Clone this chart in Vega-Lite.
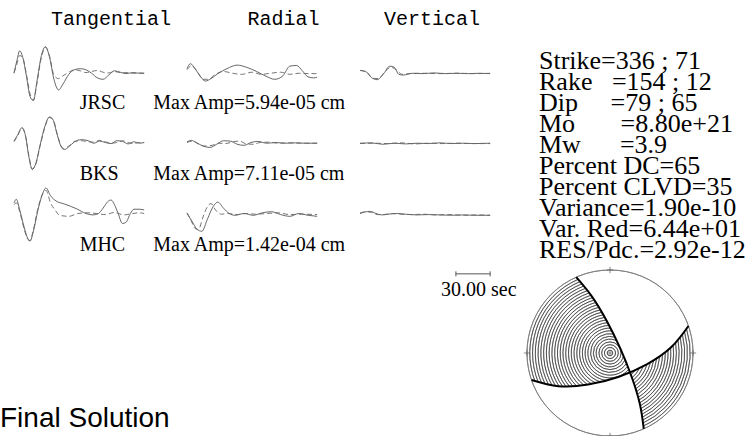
{
  "$schema": "https://vega.github.io/schema/vega-lite/v6.json",
  "padding": {"top": 8, "left": 0, "right": 0, "bottom": 0},
  "background": "white",
  "spacing": 5,
  "config": {"view": {"stroke": null}, "font": "Liberation Serif"},
  "hconcat": [
    {
      "data": {"values": [
        {"station":"JRSC","comp":"Tangential","kind":"obs","t":0,"amp":-0.05},{"station":"JRSC","comp":"Tangential","kind":"obs","t":2.5,"amp":0.3},{"station":"JRSC","comp":"Tangential","kind":"obs","t":5,"amp":0.58},{"station":"JRSC","comp":"Tangential","kind":"obs","t":7.5,"amp":0.42},{"station":"JRSC","comp":"Tangential","kind":"obs","t":11,"amp":-0.15},{"station":"JRSC","comp":"Tangential","kind":"obs","t":14,"amp":-0.7},{"station":"JRSC","comp":"Tangential","kind":"obs","t":17,"amp":-0.82},{"station":"JRSC","comp":"Tangential","kind":"obs","t":20,"amp":-0.3},{"station":"JRSC","comp":"Tangential","kind":"obs","t":24,"amp":0.45},{"station":"JRSC","comp":"Tangential","kind":"obs","t":27.5,"amp":0.7},{"station":"JRSC","comp":"Tangential","kind":"obs","t":31,"amp":0.42},{"station":"JRSC","comp":"Tangential","kind":"obs","t":35,"amp":-0.22},{"station":"JRSC","comp":"Tangential","kind":"obs","t":39,"amp":-0.52},{"station":"JRSC","comp":"Tangential","kind":"obs","t":43,"amp":-0.35},{"station":"JRSC","comp":"Tangential","kind":"obs","t":48,"amp":-0.08},{"station":"JRSC","comp":"Tangential","kind":"obs","t":53,"amp":0.05},{"station":"JRSC","comp":"Tangential","kind":"obs","t":58,"amp":0.08},{"station":"JRSC","comp":"Tangential","kind":"obs","t":63,"amp":0.05},{"station":"JRSC","comp":"Tangential","kind":"obs","t":68,"amp":-0.05},{"station":"JRSC","comp":"Tangential","kind":"obs","t":73,"amp":-0.18},{"station":"JRSC","comp":"Tangential","kind":"obs","t":78,"amp":-0.22},{"station":"JRSC","comp":"Tangential","kind":"obs","t":83,"amp":-0.1},{"station":"JRSC","comp":"Tangential","kind":"obs","t":88,"amp":0.02},{"station":"JRSC","comp":"Tangential","kind":"obs","t":93,"amp":-0.02},{"station":"JRSC","comp":"Tangential","kind":"obs","t":98,"amp":-0.06},{"station":"JRSC","comp":"Tangential","kind":"obs","t":104,"amp":-0.03},{"station":"JRSC","comp":"Tangential","kind":"obs","t":110,"amp":-0.05},{"station":"JRSC","comp":"Tangential","kind":"obs","t":114,"amp":-0.05},
        {"station":"JRSC","comp":"Tangential","kind":"syn","t":0,"amp":-0.03},{"station":"JRSC","comp":"Tangential","kind":"syn","t":2.5,"amp":0.2},{"station":"JRSC","comp":"Tangential","kind":"syn","t":5,"amp":0.45},{"station":"JRSC","comp":"Tangential","kind":"syn","t":7.5,"amp":0.4},{"station":"JRSC","comp":"Tangential","kind":"syn","t":11,"amp":-0.1},{"station":"JRSC","comp":"Tangential","kind":"syn","t":14,"amp":-0.62},{"station":"JRSC","comp":"Tangential","kind":"syn","t":17,"amp":-0.8},{"station":"JRSC","comp":"Tangential","kind":"syn","t":20,"amp":-0.35},{"station":"JRSC","comp":"Tangential","kind":"syn","t":24,"amp":0.4},{"station":"JRSC","comp":"Tangential","kind":"syn","t":27.5,"amp":0.68},{"station":"JRSC","comp":"Tangential","kind":"syn","t":31,"amp":0.45},{"station":"JRSC","comp":"Tangential","kind":"syn","t":35,"amp":-0.1},{"station":"JRSC","comp":"Tangential","kind":"syn","t":39,"amp":-0.2},{"station":"JRSC","comp":"Tangential","kind":"syn","t":43,"amp":-0.12},{"station":"JRSC","comp":"Tangential","kind":"syn","t":48,"amp":-0.02},{"station":"JRSC","comp":"Tangential","kind":"syn","t":53,"amp":0.05},{"station":"JRSC","comp":"Tangential","kind":"syn","t":58,"amp":0.02},{"station":"JRSC","comp":"Tangential","kind":"syn","t":63,"amp":-0.03},{"station":"JRSC","comp":"Tangential","kind":"syn","t":68,"amp":0},{"station":"JRSC","comp":"Tangential","kind":"syn","t":73,"amp":0.03},{"station":"JRSC","comp":"Tangential","kind":"syn","t":78,"amp":-0.02},{"station":"JRSC","comp":"Tangential","kind":"syn","t":83,"amp":-0.04},{"station":"JRSC","comp":"Tangential","kind":"syn","t":88,"amp":0},{"station":"JRSC","comp":"Tangential","kind":"syn","t":93,"amp":-0.03},{"station":"JRSC","comp":"Tangential","kind":"syn","t":98,"amp":-0.03},{"station":"JRSC","comp":"Tangential","kind":"syn","t":104,"amp":-0.05},{"station":"JRSC","comp":"Tangential","kind":"syn","t":110,"amp":-0.04},{"station":"JRSC","comp":"Tangential","kind":"syn","t":114,"amp":-0.05},
        {"station":"JRSC","comp":"Radial","kind":"obs","t":0,"amp":0.08},{"station":"JRSC","comp":"Radial","kind":"obs","t":3,"amp":0.22},{"station":"JRSC","comp":"Radial","kind":"obs","t":7,"amp":0.08},{"station":"JRSC","comp":"Radial","kind":"obs","t":12,"amp":-0.15},{"station":"JRSC","comp":"Radial","kind":"obs","t":16,"amp":-0.27},{"station":"JRSC","comp":"Radial","kind":"obs","t":21,"amp":-0.2},{"station":"JRSC","comp":"Radial","kind":"obs","t":27,"amp":-0.06},{"station":"JRSC","comp":"Radial","kind":"obs","t":35,"amp":0.08},{"station":"JRSC","comp":"Radial","kind":"obs","t":44,"amp":0.18},{"station":"JRSC","comp":"Radial","kind":"obs","t":52,"amp":0.12},{"station":"JRSC","comp":"Radial","kind":"obs","t":61,"amp":0},{"station":"JRSC","comp":"Radial","kind":"obs","t":69,"amp":-0.13},{"station":"JRSC","comp":"Radial","kind":"obs","t":77,"amp":-0.22},{"station":"JRSC","comp":"Radial","kind":"obs","t":84,"amp":-0.12},{"station":"JRSC","comp":"Radial","kind":"obs","t":90,"amp":0.15},{"station":"JRSC","comp":"Radial","kind":"obs","t":96,"amp":0.17},{"station":"JRSC","comp":"Radial","kind":"obs","t":101,"amp":0.02},{"station":"JRSC","comp":"Radial","kind":"obs","t":106,"amp":-0.15},{"station":"JRSC","comp":"Radial","kind":"obs","t":111,"amp":-0.18},{"station":"JRSC","comp":"Radial","kind":"obs","t":114,"amp":-0.16},
        {"station":"JRSC","comp":"Radial","kind":"syn","t":0,"amp":0.05},{"station":"JRSC","comp":"Radial","kind":"syn","t":4,"amp":0.16},{"station":"JRSC","comp":"Radial","kind":"syn","t":9,"amp":0},{"station":"JRSC","comp":"Radial","kind":"syn","t":14,"amp":-0.22},{"station":"JRSC","comp":"Radial","kind":"syn","t":19,"amp":-0.22},{"station":"JRSC","comp":"Radial","kind":"syn","t":24,"amp":-0.1},{"station":"JRSC","comp":"Radial","kind":"syn","t":32,"amp":0},{"station":"JRSC","comp":"Radial","kind":"syn","t":40,"amp":-0.05},{"station":"JRSC","comp":"Radial","kind":"syn","t":48,"amp":-0.08},{"station":"JRSC","comp":"Radial","kind":"syn","t":57,"amp":-0.02},{"station":"JRSC","comp":"Radial","kind":"syn","t":65,"amp":-0.08},{"station":"JRSC","comp":"Radial","kind":"syn","t":73,"amp":-0.05},{"station":"JRSC","comp":"Radial","kind":"syn","t":82,"amp":-0.02},{"station":"JRSC","comp":"Radial","kind":"syn","t":90,"amp":-0.08},{"station":"JRSC","comp":"Radial","kind":"syn","t":98,"amp":-0.05},{"station":"JRSC","comp":"Radial","kind":"syn","t":107,"amp":-0.06},{"station":"JRSC","comp":"Radial","kind":"syn","t":114,"amp":-0.06},
        {"station":"JRSC","comp":"Vertical","kind":"obs","t":0,"amp":0.03},{"station":"JRSC","comp":"Vertical","kind":"obs","t":5,"amp":0},{"station":"JRSC","comp":"Vertical","kind":"obs","t":10,"amp":-0.17},{"station":"JRSC","comp":"Vertical","kind":"obs","t":15,"amp":-0.23},{"station":"JRSC","comp":"Vertical","kind":"obs","t":21,"amp":-0.05},{"station":"JRSC","comp":"Vertical","kind":"obs","t":26,"amp":0.15},{"station":"JRSC","comp":"Vertical","kind":"obs","t":30,"amp":0.12},{"station":"JRSC","comp":"Vertical","kind":"obs","t":34,"amp":-0.08},{"station":"JRSC","comp":"Vertical","kind":"obs","t":38,"amp":-0.1},{"station":"JRSC","comp":"Vertical","kind":"obs","t":46,"amp":-0.05},{"station":"JRSC","comp":"Vertical","kind":"obs","t":55,"amp":-0.06},{"station":"JRSC","comp":"Vertical","kind":"obs","t":65,"amp":-0.04},{"station":"JRSC","comp":"Vertical","kind":"obs","t":75,"amp":-0.06},{"station":"JRSC","comp":"Vertical","kind":"obs","t":85,"amp":-0.05},{"station":"JRSC","comp":"Vertical","kind":"obs","t":95,"amp":-0.06},{"station":"JRSC","comp":"Vertical","kind":"obs","t":105,"amp":-0.05},{"station":"JRSC","comp":"Vertical","kind":"obs","t":114,"amp":-0.06},
        {"station":"JRSC","comp":"Vertical","kind":"syn","t":0,"amp":0.03},{"station":"JRSC","comp":"Vertical","kind":"syn","t":6,"amp":-0.02},{"station":"JRSC","comp":"Vertical","kind":"syn","t":11,"amp":-0.19},{"station":"JRSC","comp":"Vertical","kind":"syn","t":16,"amp":-0.2},{"station":"JRSC","comp":"Vertical","kind":"syn","t":22,"amp":0},{"station":"JRSC","comp":"Vertical","kind":"syn","t":27,"amp":0.12},{"station":"JRSC","comp":"Vertical","kind":"syn","t":32,"amp":0.04},{"station":"JRSC","comp":"Vertical","kind":"syn","t":37,"amp":-0.08},{"station":"JRSC","comp":"Vertical","kind":"syn","t":43,"amp":-0.06},{"station":"JRSC","comp":"Vertical","kind":"syn","t":55,"amp":-0.05},{"station":"JRSC","comp":"Vertical","kind":"syn","t":70,"amp":-0.06},{"station":"JRSC","comp":"Vertical","kind":"syn","t":85,"amp":-0.05},{"station":"JRSC","comp":"Vertical","kind":"syn","t":100,"amp":-0.06},{"station":"JRSC","comp":"Vertical","kind":"syn","t":114,"amp":-0.05},
        {"station":"BKS","comp":"Tangential","kind":"obs","t":0,"amp":0.04},{"station":"BKS","comp":"Tangential","kind":"obs","t":3,"amp":0.2},{"station":"BKS","comp":"Tangential","kind":"obs","t":7,"amp":0.42},{"station":"BKS","comp":"Tangential","kind":"obs","t":10,"amp":0.2},{"station":"BKS","comp":"Tangential","kind":"obs","t":13,"amp":-0.4},{"station":"BKS","comp":"Tangential","kind":"obs","t":16,"amp":-0.76},{"station":"BKS","comp":"Tangential","kind":"obs","t":19,"amp":-0.6},{"station":"BKS","comp":"Tangential","kind":"obs","t":23,"amp":-0.05},{"station":"BKS","comp":"Tangential","kind":"obs","t":27,"amp":0.45},{"station":"BKS","comp":"Tangential","kind":"obs","t":31,"amp":0.72},{"station":"BKS","comp":"Tangential","kind":"obs","t":34,"amp":0.65},{"station":"BKS","comp":"Tangential","kind":"obs","t":38,"amp":0.2},{"station":"BKS","comp":"Tangential","kind":"obs","t":41,"amp":-0.1},{"station":"BKS","comp":"Tangential","kind":"obs","t":44,"amp":-0.2},{"station":"BKS","comp":"Tangential","kind":"obs","t":48,"amp":-0.12},{"station":"BKS","comp":"Tangential","kind":"obs","t":53,"amp":0.02},{"station":"BKS","comp":"Tangential","kind":"obs","t":59,"amp":0.08},{"station":"BKS","comp":"Tangential","kind":"obs","t":65,"amp":0.05},{"station":"BKS","comp":"Tangential","kind":"obs","t":70,"amp":-0.02},{"station":"BKS","comp":"Tangential","kind":"obs","t":75,"amp":0.04},{"station":"BKS","comp":"Tangential","kind":"obs","t":80,"amp":0},{"station":"BKS","comp":"Tangential","kind":"obs","t":85,"amp":-0.03},{"station":"BKS","comp":"Tangential","kind":"obs","t":90,"amp":0.05},{"station":"BKS","comp":"Tangential","kind":"obs","t":95,"amp":0.03},{"station":"BKS","comp":"Tangential","kind":"obs","t":100,"amp":-0.04},{"station":"BKS","comp":"Tangential","kind":"obs","t":105,"amp":0.02},{"station":"BKS","comp":"Tangential","kind":"obs","t":110,"amp":-0.02},{"station":"BKS","comp":"Tangential","kind":"obs","t":114,"amp":0},
        {"station":"BKS","comp":"Tangential","kind":"syn","t":0,"amp":0.02},{"station":"BKS","comp":"Tangential","kind":"syn","t":3,"amp":0.18},{"station":"BKS","comp":"Tangential","kind":"syn","t":7,"amp":0.4},{"station":"BKS","comp":"Tangential","kind":"syn","t":10,"amp":0.2},{"station":"BKS","comp":"Tangential","kind":"syn","t":13,"amp":-0.36},{"station":"BKS","comp":"Tangential","kind":"syn","t":16,"amp":-0.74},{"station":"BKS","comp":"Tangential","kind":"syn","t":19,"amp":-0.62},{"station":"BKS","comp":"Tangential","kind":"syn","t":23,"amp":-0.08},{"station":"BKS","comp":"Tangential","kind":"syn","t":27,"amp":0.42},{"station":"BKS","comp":"Tangential","kind":"syn","t":31,"amp":0.7},{"station":"BKS","comp":"Tangential","kind":"syn","t":34,"amp":0.66},{"station":"BKS","comp":"Tangential","kind":"syn","t":38,"amp":0.22},{"station":"BKS","comp":"Tangential","kind":"syn","t":41,"amp":-0.08},{"station":"BKS","comp":"Tangential","kind":"syn","t":44,"amp":-0.17},{"station":"BKS","comp":"Tangential","kind":"syn","t":48,"amp":-0.1},{"station":"BKS","comp":"Tangential","kind":"syn","t":53,"amp":0.03},{"station":"BKS","comp":"Tangential","kind":"syn","t":59,"amp":0.05},{"station":"BKS","comp":"Tangential","kind":"syn","t":65,"amp":0.02},{"station":"BKS","comp":"Tangential","kind":"syn","t":70,"amp":0.01},{"station":"BKS","comp":"Tangential","kind":"syn","t":75,"amp":0.06},{"station":"BKS","comp":"Tangential","kind":"syn","t":80,"amp":0.02},{"station":"BKS","comp":"Tangential","kind":"syn","t":85,"amp":-0.02},{"station":"BKS","comp":"Tangential","kind":"syn","t":90,"amp":0},{"station":"BKS","comp":"Tangential","kind":"syn","t":95,"amp":0.05},{"station":"BKS","comp":"Tangential","kind":"syn","t":100,"amp":0},{"station":"BKS","comp":"Tangential","kind":"syn","t":105,"amp":-0.03},{"station":"BKS","comp":"Tangential","kind":"syn","t":110,"amp":0},{"station":"BKS","comp":"Tangential","kind":"syn","t":114,"amp":0},
        {"station":"BKS","comp":"Radial","kind":"obs","t":0,"amp":0.02},{"station":"BKS","comp":"Radial","kind":"obs","t":4,"amp":0.06},{"station":"BKS","comp":"Radial","kind":"obs","t":8,"amp":0},{"station":"BKS","comp":"Radial","kind":"obs","t":14,"amp":-0.1},{"station":"BKS","comp":"Radial","kind":"obs","t":20,"amp":-0.14},{"station":"BKS","comp":"Radial","kind":"obs","t":26,"amp":-0.05},{"station":"BKS","comp":"Radial","kind":"obs","t":32,"amp":0.05},{"station":"BKS","comp":"Radial","kind":"obs","t":38,"amp":0.04},{"station":"BKS","comp":"Radial","kind":"obs","t":44,"amp":-0.05},{"station":"BKS","comp":"Radial","kind":"obs","t":50,"amp":-0.08},{"station":"BKS","comp":"Radial","kind":"obs","t":56,"amp":0},{"station":"BKS","comp":"Radial","kind":"obs","t":62,"amp":0.03},{"station":"BKS","comp":"Radial","kind":"obs","t":70,"amp":-0.02},{"station":"BKS","comp":"Radial","kind":"obs","t":78,"amp":0},{"station":"BKS","comp":"Radial","kind":"obs","t":86,"amp":-0.02},{"station":"BKS","comp":"Radial","kind":"obs","t":95,"amp":-0.01},{"station":"BKS","comp":"Radial","kind":"obs","t":104,"amp":-0.02},{"station":"BKS","comp":"Radial","kind":"obs","t":114,"amp":-0.02},
        {"station":"BKS","comp":"Radial","kind":"syn","t":0,"amp":0},{"station":"BKS","comp":"Radial","kind":"syn","t":5,"amp":0.04},{"station":"BKS","comp":"Radial","kind":"syn","t":10,"amp":-0.04},{"station":"BKS","comp":"Radial","kind":"syn","t":16,"amp":-0.1},{"station":"BKS","comp":"Radial","kind":"syn","t":22,"amp":-0.08},{"station":"BKS","comp":"Radial","kind":"syn","t":28,"amp":-0.02},{"station":"BKS","comp":"Radial","kind":"syn","t":34,"amp":-0.03},{"station":"BKS","comp":"Radial","kind":"syn","t":40,"amp":0.02},{"station":"BKS","comp":"Radial","kind":"syn","t":46,"amp":0.04},{"station":"BKS","comp":"Radial","kind":"syn","t":52,"amp":-0.04},{"station":"BKS","comp":"Radial","kind":"syn","t":58,"amp":-0.05},{"station":"BKS","comp":"Radial","kind":"syn","t":64,"amp":0},{"station":"BKS","comp":"Radial","kind":"syn","t":72,"amp":0.01},{"station":"BKS","comp":"Radial","kind":"syn","t":80,"amp":-0.02},{"station":"BKS","comp":"Radial","kind":"syn","t":90,"amp":-0.01},{"station":"BKS","comp":"Radial","kind":"syn","t":100,"amp":-0.02},{"station":"BKS","comp":"Radial","kind":"syn","t":114,"amp":-0.02},
        {"station":"BKS","comp":"Vertical","kind":"obs","t":0,"amp":-0.02},{"station":"BKS","comp":"Vertical","kind":"obs","t":10,"amp":-0.01},{"station":"BKS","comp":"Vertical","kind":"obs","t":20,"amp":-0.05},{"station":"BKS","comp":"Vertical","kind":"obs","t":30,"amp":-0.02},{"station":"BKS","comp":"Vertical","kind":"obs","t":40,"amp":-0.04},{"station":"BKS","comp":"Vertical","kind":"obs","t":50,"amp":-0.02},{"station":"BKS","comp":"Vertical","kind":"obs","t":60,"amp":-0.03},{"station":"BKS","comp":"Vertical","kind":"obs","t":70,"amp":-0.01},{"station":"BKS","comp":"Vertical","kind":"obs","t":80,"amp":-0.03},{"station":"BKS","comp":"Vertical","kind":"obs","t":90,"amp":-0.02},{"station":"BKS","comp":"Vertical","kind":"obs","t":100,"amp":-0.03},{"station":"BKS","comp":"Vertical","kind":"obs","t":114,"amp":-0.02},
        {"station":"BKS","comp":"Vertical","kind":"syn","t":0,"amp":-0.03},{"station":"BKS","comp":"Vertical","kind":"syn","t":12,"amp":-0.02},{"station":"BKS","comp":"Vertical","kind":"syn","t":24,"amp":-0.03},{"station":"BKS","comp":"Vertical","kind":"syn","t":36,"amp":-0.01},{"station":"BKS","comp":"Vertical","kind":"syn","t":48,"amp":-0.04},{"station":"BKS","comp":"Vertical","kind":"syn","t":60,"amp":-0.02},{"station":"BKS","comp":"Vertical","kind":"syn","t":72,"amp":-0.03},{"station":"BKS","comp":"Vertical","kind":"syn","t":84,"amp":-0.02},{"station":"BKS","comp":"Vertical","kind":"syn","t":96,"amp":-0.03},{"station":"BKS","comp":"Vertical","kind":"syn","t":114,"amp":-0.03},
        {"station":"MHC","comp":"Tangential","kind":"obs","t":0,"amp":0.3},{"station":"MHC","comp":"Tangential","kind":"obs","t":2,"amp":0.4},{"station":"MHC","comp":"Tangential","kind":"obs","t":5,"amp":0.1},{"station":"MHC","comp":"Tangential","kind":"obs","t":9,"amp":-0.4},{"station":"MHC","comp":"Tangential","kind":"obs","t":12,"amp":-0.7},{"station":"MHC","comp":"Tangential","kind":"obs","t":14,"amp":-0.78},{"station":"MHC","comp":"Tangential","kind":"obs","t":17,"amp":-0.5},{"station":"MHC","comp":"Tangential","kind":"obs","t":21,"amp":0.1},{"station":"MHC","comp":"Tangential","kind":"obs","t":25,"amp":0.55},{"station":"MHC","comp":"Tangential","kind":"obs","t":28,"amp":0.72},{"station":"MHC","comp":"Tangential","kind":"obs","t":32,"amp":0.5},{"station":"MHC","comp":"Tangential","kind":"obs","t":37,"amp":0.35},{"station":"MHC","comp":"Tangential","kind":"obs","t":44,"amp":0.27},{"station":"MHC","comp":"Tangential","kind":"obs","t":55,"amp":0.13},{"station":"MHC","comp":"Tangential","kind":"obs","t":63,"amp":0},{"station":"MHC","comp":"Tangential","kind":"obs","t":69,"amp":-0.04},{"station":"MHC","comp":"Tangential","kind":"obs","t":74,"amp":0},{"station":"MHC","comp":"Tangential","kind":"obs","t":78,"amp":0.15},{"station":"MHC","comp":"Tangential","kind":"obs","t":82,"amp":0.33},{"station":"MHC","comp":"Tangential","kind":"obs","t":85,"amp":0.38},{"station":"MHC","comp":"Tangential","kind":"obs","t":88,"amp":0.25},{"station":"MHC","comp":"Tangential","kind":"obs","t":91,"amp":0.02},{"station":"MHC","comp":"Tangential","kind":"obs","t":95,"amp":-0.28},{"station":"MHC","comp":"Tangential","kind":"obs","t":98,"amp":-0.25},{"station":"MHC","comp":"Tangential","kind":"obs","t":102,"amp":0},{"station":"MHC","comp":"Tangential","kind":"obs","t":105,"amp":0.12},{"station":"MHC","comp":"Tangential","kind":"obs","t":110,"amp":0.12},{"station":"MHC","comp":"Tangential","kind":"obs","t":114,"amp":0.1},
        {"station":"MHC","comp":"Tangential","kind":"syn","t":0,"amp":0.25},{"station":"MHC","comp":"Tangential","kind":"syn","t":2,"amp":0.3},{"station":"MHC","comp":"Tangential","kind":"syn","t":5,"amp":0.05},{"station":"MHC","comp":"Tangential","kind":"syn","t":9,"amp":-0.45},{"station":"MHC","comp":"Tangential","kind":"syn","t":12,"amp":-0.72},{"station":"MHC","comp":"Tangential","kind":"syn","t":14,"amp":-0.76},{"station":"MHC","comp":"Tangential","kind":"syn","t":17,"amp":-0.45},{"station":"MHC","comp":"Tangential","kind":"syn","t":21,"amp":0.15},{"station":"MHC","comp":"Tangential","kind":"syn","t":25,"amp":0.55},{"station":"MHC","comp":"Tangential","kind":"syn","t":28,"amp":0.65},{"station":"MHC","comp":"Tangential","kind":"syn","t":32,"amp":0.3},{"station":"MHC","comp":"Tangential","kind":"syn","t":36,"amp":0.1},{"station":"MHC","comp":"Tangential","kind":"syn","t":40,"amp":-0.05},{"station":"MHC","comp":"Tangential","kind":"syn","t":48,"amp":-0.08},{"station":"MHC","comp":"Tangential","kind":"syn","t":56,"amp":0},{"station":"MHC","comp":"Tangential","kind":"syn","t":64,"amp":0.02},{"station":"MHC","comp":"Tangential","kind":"syn","t":72,"amp":0},{"station":"MHC","comp":"Tangential","kind":"syn","t":80,"amp":-0.03},{"station":"MHC","comp":"Tangential","kind":"syn","t":88,"amp":0.03},{"station":"MHC","comp":"Tangential","kind":"syn","t":96,"amp":-0.04},{"station":"MHC","comp":"Tangential","kind":"syn","t":104,"amp":0},{"station":"MHC","comp":"Tangential","kind":"syn","t":110,"amp":0.02},{"station":"MHC","comp":"Tangential","kind":"syn","t":114,"amp":0},
        {"station":"MHC","comp":"Radial","kind":"obs","t":0,"amp":0},{"station":"MHC","comp":"Radial","kind":"obs","t":4,"amp":-0.2},{"station":"MHC","comp":"Radial","kind":"obs","t":9,"amp":-0.45},{"station":"MHC","comp":"Radial","kind":"obs","t":13,"amp":-0.5},{"station":"MHC","comp":"Radial","kind":"obs","t":18,"amp":-0.15},{"station":"MHC","comp":"Radial","kind":"obs","t":23,"amp":0.2},{"station":"MHC","comp":"Radial","kind":"obs","t":27,"amp":0.32},{"station":"MHC","comp":"Radial","kind":"obs","t":32,"amp":0.15},{"station":"MHC","comp":"Radial","kind":"obs","t":37,"amp":0},{"station":"MHC","comp":"Radial","kind":"obs","t":42,"amp":-0.05},{"station":"MHC","comp":"Radial","kind":"obs","t":50,"amp":0},{"station":"MHC","comp":"Radial","kind":"obs","t":58,"amp":-0.05},{"station":"MHC","comp":"Radial","kind":"obs","t":66,"amp":0.02},{"station":"MHC","comp":"Radial","kind":"obs","t":74,"amp":0.05},{"station":"MHC","comp":"Radial","kind":"obs","t":82,"amp":-0.03},{"station":"MHC","comp":"Radial","kind":"obs","t":90,"amp":-0.08},{"station":"MHC","comp":"Radial","kind":"obs","t":98,"amp":0},{"station":"MHC","comp":"Radial","kind":"obs","t":106,"amp":-0.05},{"station":"MHC","comp":"Radial","kind":"obs","t":114,"amp":-0.08},
        {"station":"MHC","comp":"Radial","kind":"syn","t":0,"amp":0.02},{"station":"MHC","comp":"Radial","kind":"syn","t":3,"amp":-0.15},{"station":"MHC","comp":"Radial","kind":"syn","t":7,"amp":-0.42},{"station":"MHC","comp":"Radial","kind":"syn","t":10,"amp":-0.45},{"station":"MHC","comp":"Radial","kind":"syn","t":14,"amp":-0.1},{"station":"MHC","comp":"Radial","kind":"syn","t":18,"amp":0.2},{"station":"MHC","comp":"Radial","kind":"syn","t":21,"amp":0.28},{"station":"MHC","comp":"Radial","kind":"syn","t":25,"amp":0.1},{"station":"MHC","comp":"Radial","kind":"syn","t":30,"amp":-0.02},{"station":"MHC","comp":"Radial","kind":"syn","t":36,"amp":0},{"station":"MHC","comp":"Radial","kind":"syn","t":44,"amp":-0.03},{"station":"MHC","comp":"Radial","kind":"syn","t":52,"amp":0},{"station":"MHC","comp":"Radial","kind":"syn","t":60,"amp":-0.02},{"station":"MHC","comp":"Radial","kind":"syn","t":70,"amp":0},{"station":"MHC","comp":"Radial","kind":"syn","t":80,"amp":0.02},{"station":"MHC","comp":"Radial","kind":"syn","t":90,"amp":-0.03},{"station":"MHC","comp":"Radial","kind":"syn","t":100,"amp":-0.02},{"station":"MHC","comp":"Radial","kind":"syn","t":114,"amp":-0.03},
        {"station":"MHC","comp":"Vertical","kind":"obs","t":0,"amp":0},{"station":"MHC","comp":"Vertical","kind":"obs","t":4,"amp":0.04},{"station":"MHC","comp":"Vertical","kind":"obs","t":9,"amp":0.06},{"station":"MHC","comp":"Vertical","kind":"obs","t":14,"amp":0},{"station":"MHC","comp":"Vertical","kind":"obs","t":19,"amp":-0.04},{"station":"MHC","comp":"Vertical","kind":"obs","t":25,"amp":-0.02},{"station":"MHC","comp":"Vertical","kind":"obs","t":32,"amp":0},{"station":"MHC","comp":"Vertical","kind":"obs","t":40,"amp":-0.02},{"station":"MHC","comp":"Vertical","kind":"obs","t":50,"amp":-0.04},{"station":"MHC","comp":"Vertical","kind":"obs","t":60,"amp":-0.03},{"station":"MHC","comp":"Vertical","kind":"obs","t":70,"amp":-0.04},{"station":"MHC","comp":"Vertical","kind":"obs","t":80,"amp":-0.05},{"station":"MHC","comp":"Vertical","kind":"obs","t":90,"amp":-0.04},{"station":"MHC","comp":"Vertical","kind":"obs","t":100,"amp":-0.05},{"station":"MHC","comp":"Vertical","kind":"obs","t":114,"amp":-0.05},
        {"station":"MHC","comp":"Vertical","kind":"syn","t":0,"amp":0.01},{"station":"MHC","comp":"Vertical","kind":"syn","t":5,"amp":0.05},{"station":"MHC","comp":"Vertical","kind":"syn","t":10,"amp":0.03},{"station":"MHC","comp":"Vertical","kind":"syn","t":15,"amp":-0.03},{"station":"MHC","comp":"Vertical","kind":"syn","t":20,"amp":-0.03},{"station":"MHC","comp":"Vertical","kind":"syn","t":28,"amp":0},{"station":"MHC","comp":"Vertical","kind":"syn","t":36,"amp":-0.02},{"station":"MHC","comp":"Vertical","kind":"syn","t":46,"amp":-0.03},{"station":"MHC","comp":"Vertical","kind":"syn","t":56,"amp":-0.02},{"station":"MHC","comp":"Vertical","kind":"syn","t":66,"amp":-0.04},{"station":"MHC","comp":"Vertical","kind":"syn","t":78,"amp":-0.03},{"station":"MHC","comp":"Vertical","kind":"syn","t":90,"amp":-0.05},{"station":"MHC","comp":"Vertical","kind":"syn","t":102,"amp":-0.04},{"station":"MHC","comp":"Vertical","kind":"syn","t":114,"amp":-0.05},
        {"station":"JRSC","comp":"Tangential","kind":"label","maxamp":"Max Amp=5.94e-05 cm"},
        {"station":"BKS","comp":"Tangential","kind":"label","maxamp":"Max Amp=7.11e-05 cm"},
        {"station":"MHC","comp":"Tangential","kind":"label","maxamp":"Max Amp=1.42e-04 cm"},
        {"station":"MHC","comp":"Vertical","kind":"scale","label":"30.00 sec"},
        {"station":"JRSC","comp":"Tangential","kind":"head"},
        {"station":"JRSC","comp":"Radial","kind":"head"},
        {"station":"JRSC","comp":"Vertical","kind":"head"}
      ]},
      "title": {"text": "Final Solution", "orient": "bottom", "anchor": "start", "frame": "group", "font": "Liberation Sans", "fontSize": 28, "fontWeight": "normal", "color": "black", "offset": 105, "dx": -14},
      "bounds": "flush",
      "facet": {
        "row": {"field": "station", "type": "nominal", "sort": ["JRSC", "BKS", "MHC"], "header": null},
        "column": {"field": "comp", "type": "nominal", "sort": ["Tangential", "Radial", "Vertical"], "header": null}
      },
      "spacing": {"row": 0, "column": 36},
      "spec": {
        "width": 137,
        "height": 71,
        "layer": [
          {
            "transform": [{"filter": "datum.kind === 'obs'"}],
            "mark": {"type": "line", "interpolate": "monotone", "strokeWidth": 0.9, "color": "#555"},
            "encoding": {
              "x": {"field": "t", "type": "quantitative", "scale": {"domain": [0, 114]}, "axis": null},
              "y": {"field": "amp", "type": "quantitative", "scale": {"domain": [-1, 1]}, "axis": null}
            }
          },
          {
            "transform": [{"filter": "datum.kind === 'syn'"}],
            "mark": {"type": "line", "interpolate": "monotone", "strokeWidth": 0.9, "color": "#666", "strokeDash": [5, 3]},
            "encoding": {
              "x": {"field": "t", "type": "quantitative"},
              "y": {"field": "amp", "type": "quantitative"}
            }
          },
          {
            "transform": [{"filter": "datum.kind === 'head' && datum.comp === 'Tangential'"}],
            "mark": {"type": "text", "align": "left", "baseline": "alphabetic", "font": "Liberation Mono", "fontSize": 20, "color": "black"},
            "encoding": {
              "x": {"datum": 32.5, "type": "quantitative"},
              "y": {"datum": 1.31, "type": "quantitative"},
              "text": {"field": "comp"}
            }
          },
          {
            "transform": [{"filter": "datum.kind === 'head' && datum.comp === 'Radial'"}],
            "mark": {"type": "text", "align": "left", "baseline": "alphabetic", "font": "Liberation Mono", "fontSize": 20, "color": "black"},
            "encoding": {
              "x": {"datum": 53, "type": "quantitative"},
              "y": {"datum": 1.31, "type": "quantitative"},
              "text": {"field": "comp"}
            }
          },
          {
            "transform": [{"filter": "datum.kind === 'head' && datum.comp === 'Vertical'"}],
            "mark": {"type": "text", "align": "left", "baseline": "alphabetic", "font": "Liberation Mono", "fontSize": 20, "color": "black"},
            "encoding": {
              "x": {"datum": 21, "type": "quantitative"},
              "y": {"datum": 1.31, "type": "quantitative"},
              "text": {"field": "comp"}
            }
          },
          {
            "transform": [{"filter": "datum.kind === 'label'"}],
            "mark": {"type": "text", "align": "left", "baseline": "alphabetic", "font": "Liberation Serif", "fontSize": 20, "color": "black"},
            "encoding": {
              "x": {"datum": 57.5, "type": "quantitative"},
              "y": {"datum": -1.05, "type": "quantitative"},
              "text": {"field": "station"}
            }
          },
          {
            "transform": [{"filter": "datum.kind === 'label'"}],
            "mark": {"type": "text", "align": "left", "baseline": "alphabetic", "font": "Liberation Serif", "fontSize": 20, "color": "black"},
            "encoding": {
              "x": {"datum": 122, "type": "quantitative"},
              "y": {"datum": -1.05, "type": "quantitative"},
              "text": {"field": "maxamp"}
            }
          },
          {
            "transform": [{"filter": "datum.kind === 'scale'"}],
            "mark": {"type": "rule", "color": "#555", "strokeWidth": 1},
            "encoding": {
              "x": {"datum": 84, "type": "quantitative"},
              "x2": {"datum": 114},
              "y": {"datum": -1.7, "type": "quantitative"}
            }
          },
          {
            "transform": [{"filter": "datum.kind === 'scale'"}],
            "mark": {"type": "rule", "color": "#555", "strokeWidth": 1},
            "encoding": {
              "x": {"datum": 84, "type": "quantitative"},
              "y": {"datum": -1.63, "type": "quantitative"},
              "y2": {"datum": -1.77}
            }
          },
          {
            "transform": [{"filter": "datum.kind === 'scale'"}],
            "mark": {"type": "rule", "color": "#555", "strokeWidth": 1},
            "encoding": {
              "x": {"datum": 114, "type": "quantitative"},
              "y": {"datum": -1.63, "type": "quantitative"},
              "y2": {"datum": -1.77}
            }
          },
          {
            "transform": [{"filter": "datum.kind === 'scale'"}],
            "mark": {"type": "text", "align": "center", "baseline": "alphabetic", "font": "Liberation Serif", "fontSize": 20, "color": "black"},
            "encoding": {
              "x": {"datum": 104, "type": "quantitative"},
              "y": {"datum": -2.32, "type": "quantitative"},
              "text": {"field": "label"}
            }
          }
        ]
      }
    },
    {
      "spacing": 9,
      "bounds": "flush",
      "vconcat": [
        {
          "width": 222,
          "height": 225,
          "data": {"values": [
            {"i": 0, "line": "Strike=336 ; 71"},
            {"i": 1, "line": "Rake \u00a0\u00a0=154 ; 12"},
            {"i": 2, "line": "Dip \u00a0\u00a0\u00a0\u00a0=79 ; 65"},
            {"i": 3, "line": "Mo \u00a0\u00a0\u00a0\u00a0\u00a0\u00a0=8.80e+21"},
            {"i": 4, "line": "Mw \u00a0\u00a0\u00a0\u00a0\u00a0=3.9"},
            {"i": 5, "line": "Percent DC=65"},
            {"i": 6, "line": "Percent CLVD=35"},
            {"i": 7, "line": "Variance=1.90e-10"},
            {"i": 8, "line": "Var. Red=6.44e+01"},
            {"i": 9, "line": "RES/Pdc.=2.92e-12"}
          ]},
          "mark": {"type": "text", "align": "left", "baseline": "alphabetic", "font": "Liberation Serif", "fontSize": 26, "dx": 12, "color": "black"},
          "encoding": {
            "x": {"datum": 0, "type": "quantitative", "scale": {"domain": [0, 1]}, "axis": null},
            "y": {"field": "i", "type": "quantitative", "scale": {"domain": [-1.571, 9.143], "reverse": true}, "axis": null},
            "text": {"field": "line"}
          }
        },
        {
          "width": 166,
          "height": 166,
          "layer": [
            {
              "data": {"values": [
                {"r":0.0333,"a1":0,"a2":360},{"r":0.0667,"a1":0,"a2":360},{"r":0.1,"a1":0,"a2":360},{"r":0.1333,"a1":0,"a2":360},
                {"r":0.1667,"a1":102.1,"a2":389.9},{"r":0.2,"a1":114.2,"a2":377.8},{"r":0.2333,"a1":121.6,"a2":370.4},{"r":0.2667,"a1":126.8,"a2":365.2},{"r":0.3,"a1":130.7,"a2":361.3},
                {"r":0.3333,"a1":186.2,"a2":358.2},{"r":0.3333,"a1":133.8,"a2":135.8},
                {"r":0.3667,"a1":197.3,"a2":355.6},{"r":0.3667,"a1":124.7,"a2":136.4},
                {"r":0.4,"a1":204.8,"a2":353.5},{"r":0.4,"a1":117.2,"a2":138.5},
                {"r":0.4333,"a1":210.5,"a2":351.7},{"r":0.4333,"a1":111.5,"a2":140.3},
                {"r":0.4667,"a1":215.2,"a2":350.1},{"r":0.4667,"a1":106.8,"a2":141.9},
                {"r":0.5,"a1":219.1,"a2":348.7},{"r":0.5,"a1":102.9,"a2":143.3},
                {"r":0.5333,"a1":222.5,"a2":347.5},{"r":0.5333,"a1":99.5,"a2":144.5},
                {"r":0.5667,"a1":225.5,"a2":346.4},{"r":0.5667,"a1":96.5,"a2":145.6},
                {"r":0.6,"a1":228.2,"a2":345.3},{"r":0.6,"a1":93.9,"a2":146.7},
                {"r":0.6333,"a1":230.6,"a2":344.4},{"r":0.6333,"a1":91.4,"a2":147.6},
                {"r":0.6667,"a1":232.9,"a2":343.5},{"r":0.6667,"a1":89.2,"a2":148.5},
                {"r":0.7,"a1":235.0,"a2":342.6},{"r":0.7,"a1":87.1,"a2":149.4},
                {"r":0.7333,"a1":236.9,"a2":341.8},{"r":0.7333,"a1":85.1,"a2":150.2},
                {"r":0.7667,"a1":238.8,"a2":341.0},{"r":0.7667,"a1":83.2,"a2":151.0},
                {"r":0.8,"a1":240.6,"a2":340.3},{"r":0.8,"a1":81.4,"a2":151.7},
                {"r":0.8333,"a1":242.4,"a2":339.6},{"r":0.8333,"a1":79.6,"a2":152.4},
                {"r":0.8667,"a1":244.1,"a2":338.9},{"r":0.8667,"a1":77.9,"a2":153.1},
                {"r":0.9,"a1":245.8,"a2":338.2},{"r":0.9,"a1":76.2,"a2":153.8},
                {"r":0.9333,"a1":247.5,"a2":337.4},{"r":0.9333,"a1":74.5,"a2":154.6},
                {"r":0.9667,"a1":249.2,"a2":336.7},{"r":0.9667,"a1":72.8,"a2":155.3}
              ]},
              "mark": {"type": "arc", "filled": false, "color": "#333", "strokeWidth": 0.6},
              "encoding": {
                "theta": {"field": "a1", "type": "quantitative", "stack": false, "scale": {"type": "linear", "domain": [0, 360], "range": [0, 6.283185307179586]}},
                "theta2": {"field": "a2"},
                "radius": {"field": "r", "type": "quantitative", "scale": {"type": "linear", "domain": [0, 1], "range": [0, 83], "zero": true}},
                "radius2": {"field": "r"}
              }
            },
            {
              "data": {"values": [{"r": 1, "a1": 0, "a2": 360}]},
              "mark": {"type": "arc", "filled": false, "color": "#777", "strokeWidth": 0.8},
              "encoding": {
                "theta": {"field": "a1", "type": "quantitative", "stack": false},
                "theta2": {"field": "a2"},
                "radius": {"field": "r", "type": "quantitative"},
                "radius2": {"field": "r"}
              }
            },
            {
              "data": {"values": [
                {"plane":"P1","x":-0.4067,"y":0.9135},{"plane":"P1","x":-0.217,"y":0.6797},{"plane":"P1","x":-0.0386,"y":0.3851},{"plane":"P1","x":0.1238,"y":0.0551},{"plane":"P1","x":0.2604,"y":-0.2863},{"plane":"P1","x":0.3599,"y":-0.6161},{"plane":"P1","x":0.4067,"y":-0.9135},
                {"plane":"P2","x":0.9455,"y":0.3256},{"plane":"P2","x":0.7362,"y":0.0682},{"plane":"P2","x":0.443,"y":-0.1372},{"plane":"P2","x":0.0996,"y":-0.2893},{"plane":"P2","x":-0.2646,"y":-0.3808},{"plane":"P2","x":-0.6221,"y":-0.3997},{"plane":"P2","x":-0.9455,"y":-0.3256}
              ]},
              "mark": {"type": "line", "interpolate": "natural", "color": "black", "strokeWidth": 2},
              "encoding": {
                "x": {"field": "x", "type": "quantitative", "scale": {"domain": [-1, 1]}, "axis": null},
                "y": {"field": "y", "type": "quantitative", "scale": {"domain": [-1, 1]}, "axis": null},
                "detail": {"field": "plane"}
              }
            },
            {
              "data": {"values": [{"x":0,"y":1},{"x":1,"y":0},{"x":0,"y":-1},{"x":-1,"y":0},{"x":0,"y":0}]},
              "mark": {"type": "point", "shape": "M-1,0H1M0,-1V1", "filled": false, "size": 40, "color": "#666", "strokeWidth": 0.8, "opacity": 1},
              "encoding": {
                "x": {"field": "x", "type": "quantitative"},
                "y": {"field": "y", "type": "quantitative"}
              }
            }
          ]
        }
      ]
    }
  ]
}
